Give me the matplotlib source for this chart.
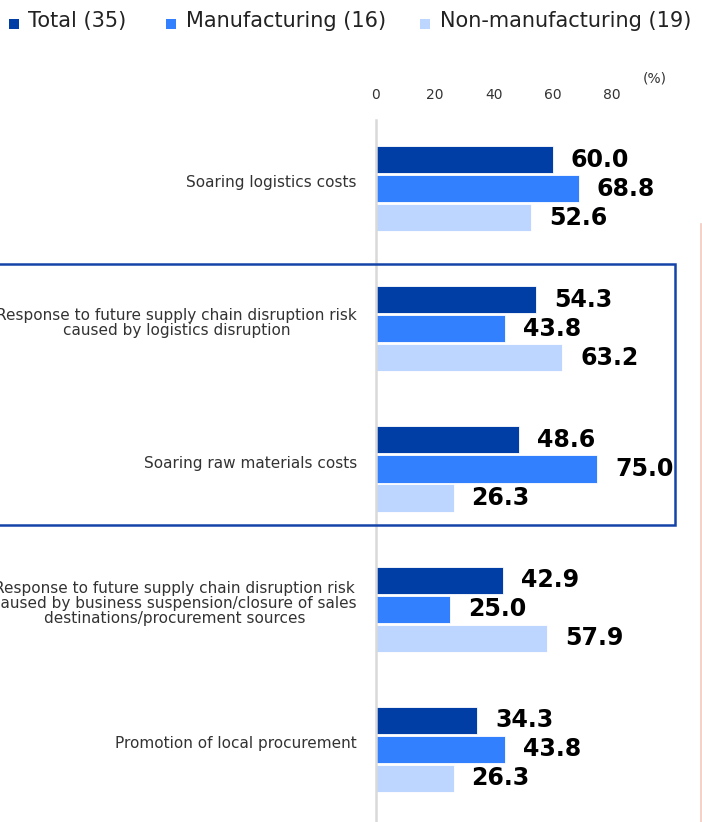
import matplotlib
matplotlib.use("Agg")
import matplotlib.pyplot as plt
from matplotlib.patches import Rectangle
from matplotlib.lines import Line2D

categories = [
    "Soaring logistics costs",
    "Response to future supply chain disruption risk\ncaused by logistics disruption",
    "Soaring raw materials costs",
    "Response to future supply chain disruption risk\ncaused by business suspension/closure of sales\ndestinations/procurement sources",
    "Promotion of local procurement",
]
series_names = ["Total (35)", "Manufacturing (16)", "Non-manufacturing (19)"]
total = [60.0, 54.3, 48.6, 42.9, 34.3]
manufacturing = [68.8, 43.8, 75.0, 25.0, 43.8]
non_manufacturing = [52.6, 63.2, 26.3, 57.9, 26.3]
xticks = [0, 20, 40, 60, 80]

colors = ["#003DA5", "#3380FF", "#BDD6FF"]

W, H = 702, 822
fig = plt.figure(figsize=(W / 100, H / 100), dpi=100)

def fx(px):
    return px / W

def fy(py):
    return 1 - py / H

# axes in pixel coords: left 376, right 702, top 120, bottom 822
ax_left, ax_right, ax_top, ax_bot = 376, 702, 120, 822
ax = fig.add_axes([fx(ax_left), fy(ax_bot), fx(ax_right - ax_left), (ax_bot - ax_top) / H])
scale = 2.95  # px per unit
ax.set_xlim(0, (ax_right - ax_left) / scale)
spacing = 140.0
c0 = 189.0
ax.set_ylim((ax_bot - c0) / spacing, (ax_top - c0) / spacing)

off = 29.0 / spacing
bh = 27.0 / spacing
series = [total, manufacturing, non_manufacturing]
for j, vals in enumerate(series):
    ys = [i + (j - 1) * off for i in range(len(categories))]
    ax.barh(ys, vals, height=bh, color=colors[j], edgecolor="white", linewidth=0.6)
    for y, v in zip(ys, vals):
        ax.text(v + 18 / scale, y, f"{v:.1f}", ha="left", va="center",
                fontsize=17, fontweight="bold", color="black", clip_on=False)

for i, cat in enumerate(categories):
    ax.text(-19 / scale, i - 6 / spacing, cat, ha="right", va="center",
            multialignment="center", fontsize=11, color="#333333",
            linespacing=1.0, clip_on=False)

ax.xaxis.tick_top()
ax.set_xticks(xticks)
ax.set_xticklabels([str(t) for t in xticks], fontsize=10, color="#333333")
ax.tick_params(axis="x", length=0, pad=13)
ax.set_yticks([])
for s in ["top", "right", "bottom"]:
    ax.spines[s].set_visible(False)
ax.spines["left"].set_color("#D9D9D9")
ax.spines["left"].set_linewidth(1.8)

fig.text(fx(655), fy(78), "(%)", ha="center", va="center", fontsize=10, color="#333333")

# Legend
leg_items = [(9, 28), (166, 186), (420, 440)]
for (mx, tx), name, c in zip(leg_items, series_names, colors):
    fig.patches.append(Rectangle((fx(mx), fy(29)), fx(10), 10 / H, transform=fig.transFigure,
                                 facecolor=c, edgecolor="none"))
    fig.text(fx(tx), fy(21), name, ha="left", va="center", fontsize=15, color="#222222")

# Highlight box
fig.patches.append(Rectangle((fx(-5), fy(525)), fx(680), (525 - 264) / H,
                             transform=fig.transFigure, facecolor="none",
                             edgecolor="#1444A8", linewidth=1.8))

# Right faint line
fig.lines.append(Line2D([fx(700.5), fx(700.5)], [fy(224), fy(822)], transform=fig.transFigure,
                        color="#F2C9BE", linewidth=1.2))

fig.savefig("out.png", dpi=100)
